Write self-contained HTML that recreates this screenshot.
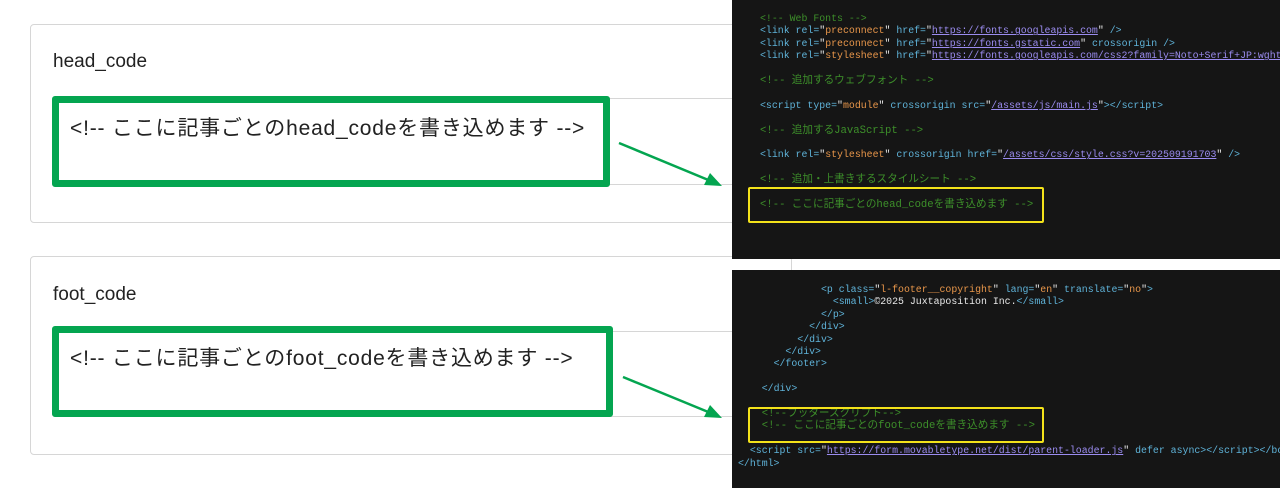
<!DOCTYPE html>
<html><head><meta charset="utf-8"><style>
body{margin:0;width:1280px;height:488px;background:#fff;position:relative;overflow:hidden;font-family:"Liberation Sans","Noto Sans CJK JP",sans-serif;}
.abs{position:absolute}
.card{position:absolute;border:1px solid #d6d6d6;border-radius:4px;background:#fff}
.title{position:absolute;font-size:19px;color:#222}
.ta{position:absolute;border:1px solid #d6d6d6;border-radius:3px}
.green{position:absolute;border:7px solid #04a550;border-radius:3px;background:#fff;box-sizing:border-box}
.green span{position:absolute;left:11px;top:9px;font-size:21px;color:#222;white-space:nowrap;letter-spacing:0.8px}
.panel{position:absolute;left:732px;width:548px;background:#151515;overflow:hidden}
.code{position:absolute;font-family:"Liberation Mono","Noto Sans CJK JP",monospace;font-size:9.9px;white-space:pre;color:#ddd;line-height:12.4px}
.cj{font-size:10.6px}
.t{color:#5fb3d9}.v{color:#e8964a}.u{color:#9b8cf0;text-decoration:underline}.c{color:#3d8f2a}.w{color:#e8e8e8}
.y{position:absolute;border:2px solid #f3e21a;border-radius:2px}
</style></head><body>
<div class="card" style="left:30px;top:24px;width:760px;height:197px"></div>
<div class="title" style="left:53px;top:51px">head_code</div>
<div class="ta" style="left:52px;top:98px;width:720px;height:85px"></div>
<div class="green" style="left:52px;top:96px;width:558px;height:91px"><span>&lt;!-- ここに記事ごとのhead_codeを書き込めます --&gt;</span></div>

<div class="card" style="left:30px;top:256px;width:760px;height:197px"></div>
<div class="title" style="left:53px;top:284px">foot_code</div>
<div class="ta" style="left:52px;top:331px;width:720px;height:84px"></div>
<div class="green" style="left:52px;top:326px;width:561px;height:91px"><span>&lt;!-- ここに記事ごとのfoot_codeを書き込めます --&gt;</span></div>

<svg class="abs" style="left:0;top:0" width="1280" height="488">
<line x1="619" y1="143" x2="718" y2="184" stroke="#04a550" stroke-width="2.5"/>
<path d="M722,186 L704,185 L710,173 z" fill="#04a550"/>
<line x1="623" y1="377" x2="718" y2="416" stroke="#04a550" stroke-width="2.5"/>
<path d="M722,418 L704,417 L710,405 z" fill="#04a550"/>
</svg>

<div class="panel" style="top:0;height:259px">
<div class="code" style="left:28px;top:13px"><span class="c">&lt;!-- Web Fonts --&gt;</span>
<span class="t">&lt;link rel=</span><span class="w">"</span><span class="v">preconnect</span><span class="w">"</span> <span class="t">href=</span><span class="w">"</span><span class="u">https://fonts.googleapis.com</span><span class="w">"</span> <span class="t">/&gt;</span>
<span class="t">&lt;link rel=</span><span class="w">"</span><span class="v">preconnect</span><span class="w">"</span> <span class="t">href=</span><span class="w">"</span><span class="u">https://fonts.gstatic.com</span><span class="w">"</span> <span class="t">crossorigin /&gt;</span>
<span class="t">&lt;link rel=</span><span class="w">"</span><span class="v">stylesheet</span><span class="w">"</span> <span class="t">href=</span><span class="w">"</span><span class="u">https://fonts.googleapis.com/css2?family=Noto+Serif+JP:wght</span>

<span class="c cj">&lt;!-- 追加するウェブフォント --&gt;</span>

<span class="t">&lt;script type=</span><span class="w">"</span><span class="v">module</span><span class="w">"</span> <span class="t">crossorigin src=</span><span class="w">"</span><span class="u">/assets/js/main.js</span><span class="w">"</span><span class="t">&gt;&lt;/script&gt;</span>

<span class="c cj">&lt;!-- 追加するJavaScript --&gt;</span>

<span class="t">&lt;link rel=</span><span class="w">"</span><span class="v">stylesheet</span><span class="w">"</span> <span class="t">crossorigin href=</span><span class="w">"</span><span class="u">/assets/css/style.css?v=202509191703</span><span class="w">"</span> <span class="t">/&gt;</span>

<span class="c cj">&lt;!-- 追加・上書きするスタイルシート --&gt;</span>

<span class="c cj">&lt;!-- ここに記事ごとのhead_codeを書き込めます --&gt;</span></div>
<div class="y" style="left:16px;top:187px;width:292px;height:32px"></div>
</div>

<div class="panel" style="top:270px;height:218px">
<div class="code" style="left:6px;top:14px">              <span class="t">&lt;p class=</span><span class="w">"</span><span class="v">l-footer__copyright</span><span class="w">"</span> <span class="t">lang=</span><span class="w">"</span><span class="v">en</span><span class="w">"</span> <span class="t">translate=</span><span class="w">"</span><span class="v">no</span><span class="w">"</span><span class="t">&gt;</span>
                <span class="t">&lt;small&gt;</span><span class="w">©2025 Juxtaposition Inc.</span><span class="t">&lt;/small&gt;</span>
              <span class="t">&lt;/p&gt;</span>
            <span class="t">&lt;/div&gt;</span>
          <span class="t">&lt;/div&gt;</span>
        <span class="t">&lt;/div&gt;</span>
      <span class="t">&lt;/footer&gt;</span>

    <span class="t">&lt;/div&gt;</span>

    <span class="c cj">&lt;!--フッタースクリプト--&gt;</span>
    <span class="c cj">&lt;!-- ここに記事ごとのfoot_codeを書き込めます --&gt;</span>

  <span class="t">&lt;script src=</span><span class="w">"</span><span class="u">https://form.movabletype.net/dist/parent-loader.js</span><span class="w">"</span> <span class="t">defer async&gt;&lt;/script&gt;&lt;/bo</span>
<span class="t">&lt;/html&gt;</span></div>
<div class="y" style="left:16px;top:137px;width:292px;height:32px"></div>
</div>
</body></html>
